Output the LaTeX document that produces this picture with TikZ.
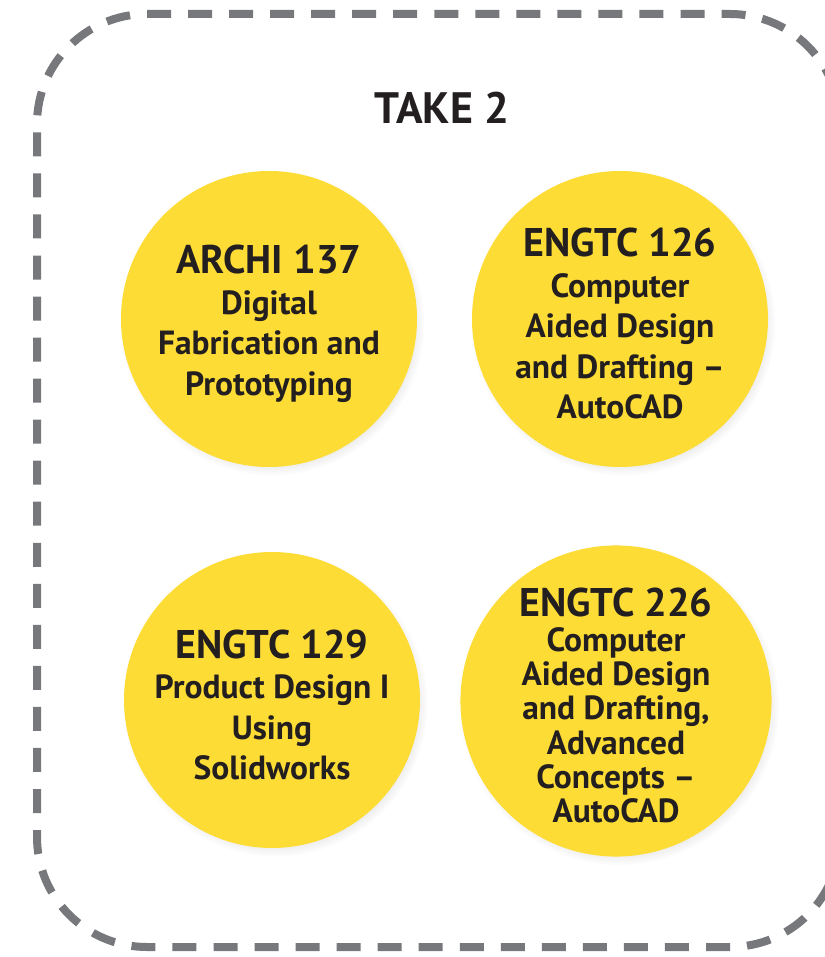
\documentclass[tikz,border=0pt]{standalone}
\usepackage{fontspec}
\setmainfont{PT Sans}
\usetikzlibrary{shadows,fadings}
\definecolor{framegray}{HTML}{77787B}
\definecolor{courseyellow}{HTML}{FDDC35}
\definecolor{inkblack}{HTML}{231F20}
\newcommand{\ctitle}[1]{{\fontsize{40}{44}\selectfont\rule{0pt}{38pt}#1}}

\begin{document}
\begin{tikzpicture}
                [x=1pt, y=-1pt,
                every text node part/.style={align=center},
                csty/.style={circle, fill=courseyellow, minimum size=296pt, inner sep=0pt, text=inkblack,
                        font=\bfseries\fontsize{33.5}{40.5}\selectfont,
                        circular drop shadow={shadow xshift=3pt, shadow yshift=-4pt, opacity=0.3, shadow scale=1.03}},
                dsty/.style={csty, font=\bfseries\fontsize{33.5}{34.3}\selectfont},
                fsty/.style={draw=framegray, line width=8pt, dash pattern=on 24pt off 17.04pt}]
                \useasboundingbox (0,0) rectangle (824,957);
                % dashed frame
                \draw[fsty] (147,14) -- (730,14) arc (90:0:110pt) -- (840,837) arc (0:-90:110pt)
                        -- (147,947) arc (270:180:110pt) -- (37,124) arc (180:90:110pt) -- cycle;
                % heading
                \node[text=inkblack, anchor=base, font=\bfseries\fontsize{44}{48}\selectfont] (take) at (442,124) {TAKE 2};
                % courses
                \node[csty] (archi) at (269,319) {\ctitle{ARCHI 137}\\Digital\\Fabrication and\\Prototyping};
                \node[csty] (cad) at (620,319) {\ctitle{ENGTC 126}\\Computer\\Aided Design\\and Drafting --\\AutoCAD};
                \node[csty] (prod) at (272,700) {\ctitle{ENGTC 129}\\Product Design I\\Using\\Solidworks};
                \node[dsty] (adv) at (616,701) {\ctitle{ENGTC 226}\\Computer\\Aided Design\\and Drafting,\\Advanced\\Concepts --\\AutoCAD};
            \end{tikzpicture}
\end{document}
